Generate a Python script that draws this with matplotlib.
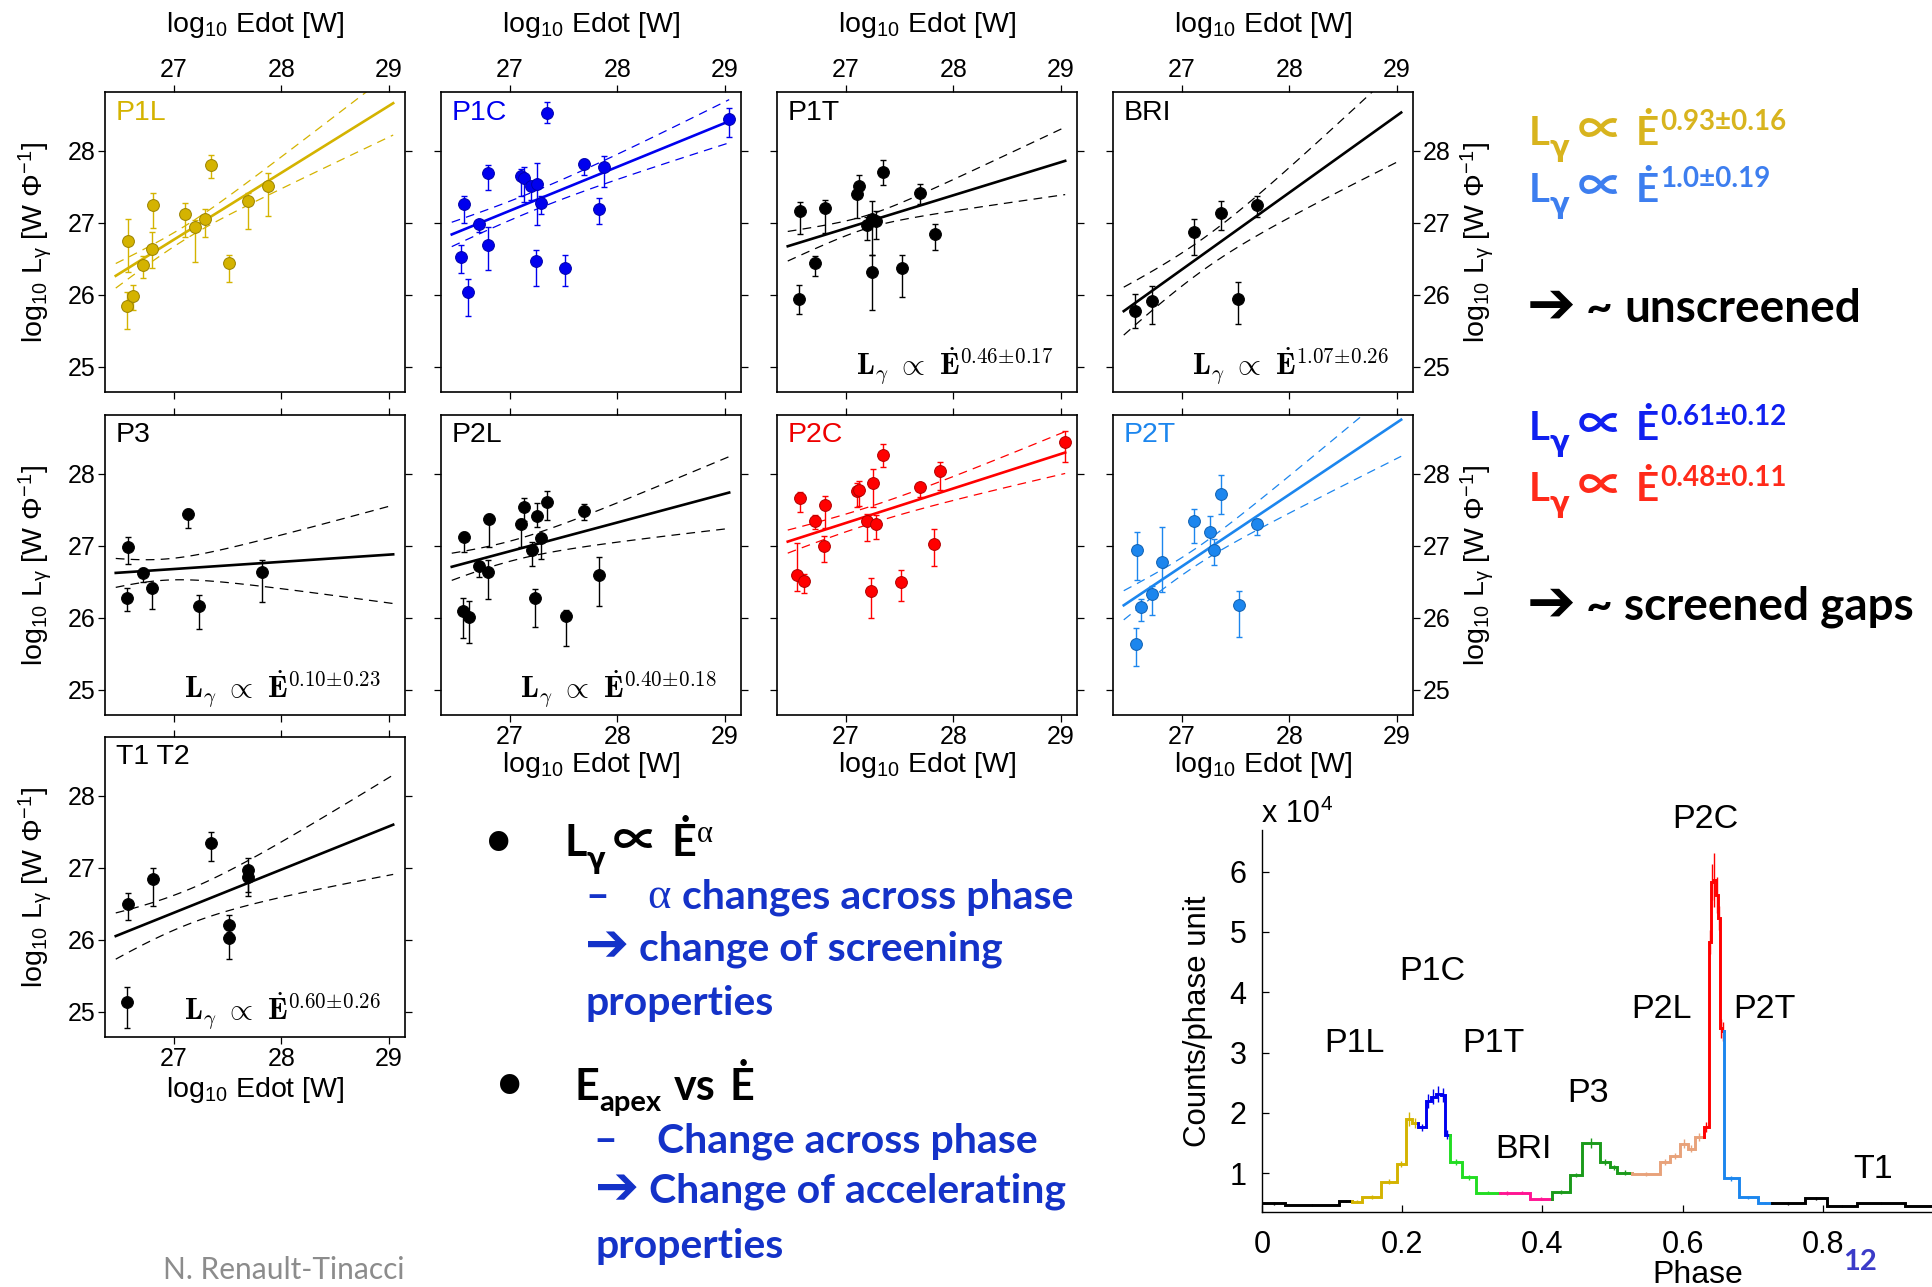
import numpy as np
import matplotlib
matplotlib.use("Agg")
import matplotlib.pyplot as plt
from matplotlib import font_manager

W, H, DPI = 1932, 1287, 100

# ---- phase-resolved L_gamma vs Edot: x, y and error-bar ends per panel ----
P1L_X = [26.56, 26.62, 26.57, 26.71, 26.80, 26.81, 27.10, 27.20, 27.29, 27.35, 27.51, 27.69, 27.88]
P1L_Y = [25.85, 25.98, 26.75, 26.41, 26.64, 27.25, 27.13, 26.94, 27.05, 27.80, 26.44, 27.30, 27.51]
P1L_LO = [25.52, 25.79, 26.32, 26.24, 26.37, 26.93, 26.81, 26.46, 26.80, 27.63, 26.18, 26.92, 27.09]
P1L_HI = [26.04, 26.14, 27.05, 26.54, 26.88, 27.42, 27.28, 27.04, 27.20, 27.94, 26.56, 27.42, 27.69]

P1C_X = [26.57, 26.71, 26.55, 26.61, 26.80, 26.80, 27.10, 27.13, 27.20, 27.25, 27.29, 27.24,
         27.35, 27.51, 27.69, 27.88, 27.83, 29.04]
P1C_Y = [27.27, 26.99, 26.52, 26.04, 27.70, 26.70, 27.65, 27.62, 27.51, 27.54, 27.28, 26.47,
         28.53, 26.38, 27.82, 27.78, 27.20, 28.45]
P1C_LO = [27.00, 26.88, 26.31, 25.70, 27.46, 26.35, 27.37, 27.29, 27.32, 26.97, 27.12, 26.13,
          28.39, 26.13, 27.66, 27.50, 26.98, 28.19]
P1C_HI = [27.37, 27.04, 26.70, 26.22, 27.81, 26.94, 27.75, 27.78, 27.56, 27.84, 27.37, 26.63,
          28.68, 26.56, 27.89, 27.93, 27.35, 28.60]

P1T_X = [26.56, 26.57, 26.71, 26.81, 27.10, 27.12, 27.20, 27.24, 27.28, 27.24, 27.35, 27.52, 27.69, 27.83]
P1T_Y = [25.94, 27.16, 26.44, 27.21, 27.40, 27.51, 26.97, 27.05, 27.03, 26.32, 27.71, 26.38, 27.42, 26.85]
P1T_LO = [25.73, 26.84, 26.26, 26.86, 27.07, 27.36, 26.76, 26.55, 26.77, 25.79, 27.53, 25.97, 27.27, 26.63]
P1T_HI = [26.14, 27.29, 26.54, 27.32, 27.45, 27.67, 27.08, 27.31, 27.17, 26.55, 27.87, 26.55, 27.54, 26.99]

BRI_X = [26.56, 26.72, 27.11, 27.36, 27.70, 27.52]
BRI_Y = [25.77, 25.92, 26.88, 27.14, 27.25, 25.94]
BRI_LO = [25.54, 25.60, 26.56, 26.90, 27.08, 25.60]
BRI_HI = [26.01, 26.12, 27.05, 27.31, 27.37, 26.18]

P3_X = [26.57, 26.56, 26.71, 26.80, 27.13, 27.23, 27.82]
P3_Y = [26.98, 26.28, 26.63, 26.42, 27.44, 26.16, 26.64]
P3_LO = [26.75, 26.10, 26.50, 26.13, 27.25, 25.84, 26.22]
P3_HI = [27.12, 26.42, 26.69, 26.48, 27.52, 26.32, 26.80]

P2L_X = [26.57, 26.56, 26.62, 26.71, 26.81, 26.80, 27.10, 27.13, 27.21, 27.25, 27.29, 27.23,
         27.35, 27.52, 27.69, 27.83]
P2L_Y = [27.12, 26.10, 26.01, 26.72, 27.37, 26.64, 27.30, 27.54, 26.94, 27.42, 27.11, 26.27,
         27.61, 26.02, 27.49, 26.59]
P2L_LO = [26.92, 25.72, 25.65, 26.57, 26.98, 26.26, 26.99, 27.34, 26.72, 27.27, 26.82, 25.87,
          27.36, 25.61, 27.36, 26.16]
P2L_HI = [27.20, 26.28, 26.23, 26.76, 27.45, 26.81, 27.37, 27.66, 27.06, 27.59, 27.16, 26.40,
          27.77, 26.11, 27.58, 26.84]

P2C_X = [26.57, 26.55, 26.61, 26.71, 26.81, 26.80, 27.10, 27.12, 27.25, 27.20, 27.28, 27.23,
         27.35, 27.51, 27.69, 27.88, 27.82, 29.04]
P2C_Y = [27.66, 26.59, 26.51, 27.35, 27.57, 27.00, 27.77, 27.78, 27.88, 27.35, 27.30, 26.37,
         28.26, 26.50, 27.82, 28.04, 27.02, 28.45]
P2C_LO = [27.47, 26.38, 26.34, 27.23, 27.25, 26.78, 27.54, 27.56, 27.54, 27.07, 27.09, 26.00,
          28.10, 26.23, 27.68, 27.78, 26.72, 28.17]
P2C_HI = [27.75, 27.04, 26.61, 27.43, 27.69, 27.14, 27.87, 27.90, 28.07, 27.45, 27.43, 26.56,
          28.41, 26.66, 27.88, 28.16, 27.23, 28.60]

P2T_X = [26.58, 26.57, 26.62, 26.72, 26.82, 27.11, 27.26, 27.30, 27.36, 27.53, 27.70]
P2T_Y = [26.94, 25.64, 26.15, 26.33, 26.77, 27.35, 27.20, 26.94, 27.72, 26.18, 27.31]
P2T_LO = [26.53, 25.33, 25.96, 26.04, 26.36, 27.04, 26.97, 26.74, 27.44, 25.74, 27.15]
P2T_HI = [27.20, 25.86, 26.26, 26.45, 27.26, 27.51, 27.41, 27.10, 27.99, 26.38, 27.38]

T12_X = [26.57, 26.56, 26.81, 27.35, 27.51, 27.51, 27.69, 27.69]
T12_Y = [26.50, 25.13, 26.85, 27.34, 26.21, 26.02, 26.97, 26.88]
T12_LO = [26.27, 24.77, 26.47, 27.09, 26.03, 25.73, 26.67, 26.61]
T12_HI = [26.65, 25.34, 27.00, 27.50, 26.34, 26.11, 27.14, 26.97]

PANEL_NAMES = ["P1L", "P1C", "P1T", "BRI", "P3", "P2L", "P2C", "P2T", "T1 T2"]

# power-law fits: slope, value at the start of the fitted range, error band shape
FIT_SLOPE = [0.93, 0.61, 0.46, 1.07, 0.10, 0.40, 0.48, 1.0, 0.60]
SLOPE_ERR = [0.16, 0.12, 0.17, 0.26, 0.23, 0.18, 0.11, 0.19, 0.26]
SLOPE_DIGITS = [2, 2, 2, 2, 2, 2, 2, 1, 2]
FIT_START = [26.265, 26.84, 26.676, 25.774, 26.625, 26.71, 27.06, 26.175, 26.053]
FIT_RANGE = (26.46, 29.04)
BAND_PIVOT = [27.1, 27.2, 27.2, 27.2, 26.9, 27.0, 27.2, 27.1, 27.1]
BAND_MIN = [0.094, 0.13, 0.09, 0.22, 0.147, 0.14, 0.12, 0.12, 0.24]
BAND_SLOPE = [0.223, 0.147, 0.25, 0.338, 0.312, 0.235, 0.144, 0.255, 0.334]
SHOW_FORMULA = [False, False, True, True, True, True, False, False, True]

# ---- pulse profile (counts per phase unit, x 10^4) ----
PROF_EDGES = [0.000, 0.033, 0.110, 0.129,
              0.143, 0.170, 0.192, 0.205, 0.214, 0.223,
              0.234, 0.241, 0.248, 0.255, 0.261, 0.268,
              0.286, 0.305, 0.339,
              0.361, 0.382, 0.414,
              0.439, 0.457, 0.482, 0.496, 0.507, 0.528,
              0.568, 0.582, 0.596, 0.607, 0.617, 0.630,
              0.637, 0.641, 0.644, 0.647, 0.650, 0.653, 0.656, 0.659,
              0.680, 0.707, 0.728,
              0.774, 0.806, 0.849, 0.917, 1.000]
PROF_COUNTS = [0.50, 0.47, 0.54,
               0.53, 0.61, 0.86, 1.15, 1.90, 1.83,
               1.76, 2.20, 2.27, 2.31, 2.30, 1.64,
               1.18, 0.93, 0.68,
               0.67, 0.68, 0.58,
               0.69, 0.97, 1.50, 1.18, 1.10, 1.01,
               0.99, 1.18, 1.28, 1.49, 1.41, 1.60,
               1.77, 4.84, 5.83, 5.86, 5.61, 5.23, 3.40, 3.35,
               0.92, 0.60, 0.51,
               0.50, 0.585, 0.46, 0.51, 0.46]
PROF_ERR = [0.02, 0.02, 0.02,
            0.02, 0.03, 0.04, 0.05, 0.12, 0.08,
            0.06, 0.12, 0.12, 0.13, 0.12, 0.08,
            0.05, 0.04, 0.03,
            0.03, 0.03, 0.03,
            0.03, 0.04, 0.08, 0.05, 0.04, 0.04,
            0.03, 0.05, 0.05, 0.07, 0.06, 0.07,
            0.08, 0.20, 0.30, 0.45, 0.30, 0.20, 0.15, 0.15,
            0.04, 0.03, 0.02,
            0.02, 0.02, 0.02, 0.02, 0.02]
PROF_REGION = (["off"] * 3 + ["P1L"] * 6 + ["P1C"] * 6 + ["P1T"] * 3 + ["BRI"] * 3
               + ["P3"] * 6 + ["P2L"] * 6 + ["P2C"] * 8 + ["P2T"] * 3 + ["off"] * 5)
REGION_COLORS = {"off": "#000000", "P1L": "#D4B300", "P1C": "#0000EE", "P1T": "#22DD22",
                 "BRI": "#FF1493", "P3": "#1A9A1A", "P2L": "#E8A27A", "P2C": "#FF0000",
                 "P2T": "#1C86EE"}
PROF_LABELS = ["P1L", "P1C", "P1T", "BRI", "P3", "P2L", "P2C", "P2T", "T1"]
PROF_LABEL_XY = [(1354, 1043), (1432, 972), (1493, 1043), (1523, 1150), (1588, 1093),
                 (1661, 1010), (1705, 819), (1764, 1010), (1873, 1170)]

PANEL_FILL = ["#D4B300", "#0000EE", "black", "black", "black", "black", "#FF0000", "#1C86EE", "black"]
PANEL_EDGE = ["#9A8200", "#0000AA", "black", "black", "black", "black", "#B00000", "#1060B0", "black"]
NAME_COLOR = ["#D4B300", "#0000EE", "black", "black", "black", "black", "#EE0000", "#1C86EE", "black"]

COL_LEFT = [105, 441, 777, 1113]
ROW_TOP = [92, 415, 737]
PANEL_SIZE = 300

names = {f.name for f in font_manager.fontManager.ttflist}
SLIDE = ["Lato", "DejaVu Sans"] if "Lato" in names else ["DejaVu Sans"]
SYM = ["DejaVu Sans"]
PROP = ["Noto Sans CJK JP", "DejaVu Sans"]
SERIF = ["Liberation Serif", "DejaVu Serif"]

plt.rcParams.update({
    "font.family": ["Liberation Sans", "DejaVu Sans"],
    "mathtext.fontset": "custom",
    "mathtext.rm": "Liberation Sans",
    "mathtext.it": "Liberation Sans",
    "mathtext.bf": "Liberation Sans:bold",
    "mathtext.sf": "Liberation Sans",
    "axes.linewidth": 1.2,
})

fig = plt.figure(figsize=(W / DPI, H / DPI), dpi=DPI)
fig.patch.set_facecolor("white")


def px_axes(left, top, width, height):
    return fig.add_axes([left / W, 1 - (top + height) / H, width / W, height / H])


panel_data = [
    (P1L_X, P1L_Y, P1L_LO, P1L_HI), (P1C_X, P1C_Y, P1C_LO, P1C_HI),
    (P1T_X, P1T_Y, P1T_LO, P1T_HI), (BRI_X, BRI_Y, BRI_LO, BRI_HI),
    (P3_X, P3_Y, P3_LO, P3_HI), (P2L_X, P2L_Y, P2L_LO, P2L_HI),
    (P2C_X, P2C_Y, P2C_LO, P2C_HI), (P2T_X, P2T_Y, P2T_LO, P2T_HI),
    (T12_X, T12_Y, T12_LO, T12_HI),
]
grid_pos = [(0, 0), (0, 1), (0, 2), (0, 3), (1, 0), (1, 1), (1, 2), (1, 3), (2, 0)]

for k, (row, col) in enumerate(grid_pos):
    ax = px_axes(COL_LEFT[col], ROW_TOP[row], PANEL_SIZE, PANEL_SIZE)
    x, y, lo, hi = (np.asarray(a) for a in panel_data[k])
    fill, edge = PANEL_FILL[k], PANEL_EDGE[k]

    xs = np.linspace(*FIT_RANGE, 120)
    fit = FIT_START[k] + FIT_SLOPE[k] * (xs - FIT_RANGE[0])
    half = np.sqrt(BAND_MIN[k] ** 2 + (BAND_SLOPE[k] * (xs - BAND_PIVOT[k])) ** 2)
    ax.plot(xs, fit, color=fill, lw=1.9, zorder=2)
    ax.plot(xs, fit + half, color=fill, lw=0.9, dashes=(7, 5), zorder=2)
    ax.plot(xs, fit - half, color=fill, lw=0.9, dashes=(7, 5), zorder=2)

    ax.errorbar(x, y, yerr=[y - lo, hi - y], fmt="none", ecolor=fill, elinewidth=1.0,
                capsize=2.5, capthick=1.0, zorder=3)
    ax.plot(x, y, "o", ms=8.5, mfc=fill, mec=edge, mew=0.7, zorder=4)

    ax.set_xlim(26.36, 29.15)
    ax.set_ylim(24.65, 28.82)
    ax.set_xticks([27, 28, 29])
    ax.set_yticks([25, 26, 27, 28])
    last_row = row == 2 or (row == 1 and col > 0)
    ax.tick_params(direction="out", length=5, width=0.9, top=True, right=True,
                   labeltop=row == 0, labelbottom=last_row,
                   labelleft=col == 0, labelright=col == 3, labelsize=18, pad=2)

    ax.text(0.035, 0.975, PANEL_NAMES[k], transform=ax.transAxes, ha="left", va="top",
            fontsize=20.5, color=NAME_COLOR[k])
    if SHOW_FORMULA[k]:
        d = SLOPE_DIGITS[k]
        expo = rf"\mathbf{{{FIT_SLOPE[k]:.{d}f}}}\!\pm\!\mathbf{{{SLOPE_ERR[k]:.2f}}}"
        ax.text(0.92, 0.055,
                rf"$\mathbf{{L}}_{{\gamma}}\ \propto\ \dot{{\mathbf{{E}}}}^{{{expo}}}$",
                transform=ax.transAxes, ha="right", va="baseline", fontsize=21.5,
                math_fontfamily="cm")

# ---- pulse profile ----
axp = px_axes(1262, 830, W - 1262, 382)
edges = np.asarray(PROF_EDGES)
counts = np.asarray(PROF_COUNTS)
errs = np.asarray(PROF_ERR)
start = 0
while start < len(counts):
    stop = start
    while stop + 1 < len(counts) and PROF_REGION[stop + 1] == PROF_REGION[start]:
        stop += 1
    color = REGION_COLORS[PROF_REGION[start]]
    sx = [edges[start]]
    sy = [counts[start - 1] if start > 0 else counts[start]]
    for i in range(start, stop + 1):
        sx += [edges[i], edges[i + 1]]
        sy += [counts[i], counts[i]]
    axp.plot(sx, sy, color=color, lw=2.1, solid_joinstyle="miter")
    centers = 0.5 * (edges[start:stop + 1] + edges[start + 1:stop + 2])
    axp.errorbar(centers, counts[start:stop + 1], yerr=errs[start:stop + 1], fmt="none",
                 ecolor=color, elinewidth=1.0)
    start = stop + 1

axp.set_xlim(0, (W - 1262) / 701)
axp.set_ylim(0.358, 6.69)
axp.spines["top"].set_visible(False)
axp.spines["right"].set_visible(False)
axp.spines["left"].set_linewidth(1.0)
axp.spines["bottom"].set_linewidth(1.0)
axp.set_xticks([0, 0.2, 0.4, 0.6, 0.8], ["0", "0.2", "0.4", "0.6", "0.8"])
axp.set_yticks([1, 2, 3, 4, 5, 6])
axp.tick_params(axis="x", direction="in", length=5, width=0.9, labelsize=22, pad=13)
axp.tick_params(axis="y", direction="in", length=5, width=0.9, labelsize=22, pad=11)
axp.patch.set_alpha(0)

# ---- overlay for free text (pixel coordinates, origin top-left) ----
ov = fig.add_axes([0, 0, 1, 1], zorder=10)
ov.set_xlim(0, W)
ov.set_ylim(H, 0)
ov.axis("off")


def rich(x, y, runs):
    prev = None
    for text, style in runs:
        style = dict(style)
        dx = style.pop("dx", 0)
        dy = style.pop("dy", 0)
        if prev is None:
            prev = ov.text(x + dx, y - dy, text, ha="left", va="baseline", **style)
        else:
            prev = ov.annotate(text, xy=(1, y), xycoords=(prev, ov.transData),
                               xytext=(dx, dy), textcoords="offset pixels",
                               ha="left", va="baseline", annotation_clip=False, **style)
    return prev


# axis titles around the grid
for col in range(4):
    cx = COL_LEFT[col] + PANEL_SIZE / 2
    ov.text(cx, 32, r"log$_{10}$ Edot [W]", ha="center", va="baseline", fontsize=20.5)
for col in (1, 2, 3):
    cx = COL_LEFT[col] + PANEL_SIZE / 2
    ov.text(cx, 772, r"log$_{10}$ Edot [W]", ha="center", va="baseline", fontsize=20.5)
ov.text(COL_LEFT[0] + PANEL_SIZE / 2, 1097, r"log$_{10}$ Edot [W]", ha="center",
        va="baseline", fontsize=20.5)
ylab = r"log$_{10}$ L$_{\gamma}$ [W Φ$^{-1}$]"
for row in range(3):
    cy = ROW_TOP[row] + PANEL_SIZE / 2
    ov.text(35, cy, ylab, rotation=90, ha="center", va="center", fontsize=20.5)
for row in range(2):
    cy = ROW_TOP[row] + PANEL_SIZE / 2
    ov.text(1477, cy, ylab, rotation=90, ha="center", va="center", fontsize=20.5)

# power-law summary on the right
SUMMARY = [(0, 145, "#D8B41E"), (7, 202, "#3D7EEF"), (1, 440, "#1020F0"), (6, 501, "#FF2A1A")]
for k, base, color in SUMMARY:
    expo = f"{FIT_SLOPE[k]:.{SLOPE_DIGITS[k]}f}±{SLOPE_ERR[k]:.2f}"
    rich(1529, base, [
        ("L", dict(family=SLIDE, size=29, weight="bold", color=color)),
        ("γ", dict(family=SYM, size=21, weight="bold", color=color, dx=0, dy=-11)),
        ("∝", dict(family=PROP, size=33, weight="bold", color=color, dx=8)),
        ("Ė", dict(family=SLIDE, size=29, weight="bold", color=color, dx=12)),
        (expo, dict(family=SLIDE, size=20, weight="bold", color=color, dx=1, dy=15)),
    ])

for base, words in [(322, "unscreened"), (620, "screened gaps")]:
    rich(1527, base, [
        ("➔", dict(family=SYM, size=42, weight="bold", color="black", dy=-1)),
        ("~", dict(family=SLIDE, size=33, weight="bold", color="black", dx=10)),
        (words, dict(family=SLIDE, size=33, weight="bold", color="black", dx=12)),
    ])

# bullet list in the middle
BLUE = "#1432C8"
ov.text(499, 866, "•", ha="center", va="baseline", family=SYM, fontsize=48, color="black")
rich(564, 856, [
    ("L", dict(family=SLIDE, size=31, weight="bold", color="black")),
    ("γ", dict(family=SYM, size=20, weight="bold", color="black", dx=0, dy=-12)),
    ("∝", dict(family=PROP, size=33, weight="bold", color="black", dx=8)),
    ("Ė", dict(family=SLIDE, size=31, weight="bold", color="black", dx=12)),
    ("α", dict(family=SERIF, size=22, color="black", dx=1, dy=14)),
])
rich(585, 908, [
    ("–", dict(family=SLIDE, size=29.5, weight="bold", color=BLUE)),
    ("α", dict(family=SERIF, size=32, color=BLUE, dx=38)),
    ("changes across phase", dict(family=SLIDE, size=29.5, weight="bold", color=BLUE, dx=12)),
])
rich(585, 960, [
    ("➔", dict(family=SYM, size=38, weight="bold", color=BLUE, dy=-1)),
    ("change of screening", dict(family=SLIDE, size=29.5, weight="bold", color=BLUE, dx=10)),
])
rich(585, 1015, [("properties", dict(family=SLIDE, size=29.5, weight="bold", color=BLUE))])

ov.text(510, 1109, "•", ha="center", va="baseline", family=SYM, fontsize=48, color="black")
rich(574, 1100, [
    ("E", dict(family=SLIDE, size=31, weight="bold", color="black")),
    ("apex", dict(family=SLIDE, size=21, weight="bold", color="black", dx=1, dy=-11)),
    ("vs", dict(family=SLIDE, size=31, weight="bold", color="black", dx=12)),
    ("Ė", dict(family=SLIDE, size=31, weight="bold", color="black", dx=14)),
])
rich(593, 1152, [
    ("–", dict(family=SLIDE, size=29.5, weight="bold", color=BLUE)),
    ("Change across phase", dict(family=SLIDE, size=29.5, weight="bold", color=BLUE, dx=40)),
])
rich(595, 1203, [
    ("➔", dict(family=SYM, size=38, weight="bold", color=BLUE, dy=-1)),
    ("Change of accelerating", dict(family=SLIDE, size=29.5, weight="bold", color=BLUE, dx=10)),
])
rich(595, 1258, [("properties", dict(family=SLIDE, size=29.5, weight="bold", color=BLUE))])

# profile annotations
rich(1262, 822, [
    ("x 10", dict(size=22, color="black")),
    ("4", dict(size=15, color="black", dx=1, dy=12)),
])
for lab, (lx, ly) in zip(PROF_LABELS, PROF_LABEL_XY):
    ov.text(lx, ly, lab, ha="center", va="center", fontsize=24.5, color="black")
ov.text(1198, 1021, "Counts/phase unit", rotation=90, ha="center", va="center", fontsize=22.5)
ov.text(1698, 1283, "Phase", ha="center", va="baseline", fontsize=23)

ov.text(163, 1279, "N. Renault-Tinacci", ha="left", va="baseline", family=SLIDE,
        fontsize=21.5, color="#8C8C8C")
ov.text(1843, 1270, "12", ha="left", va="baseline", family=SLIDE, fontsize=21,
        weight="bold", color="#3B3BC8")

fig.savefig("out.png", dpi=DPI, facecolor="white")
